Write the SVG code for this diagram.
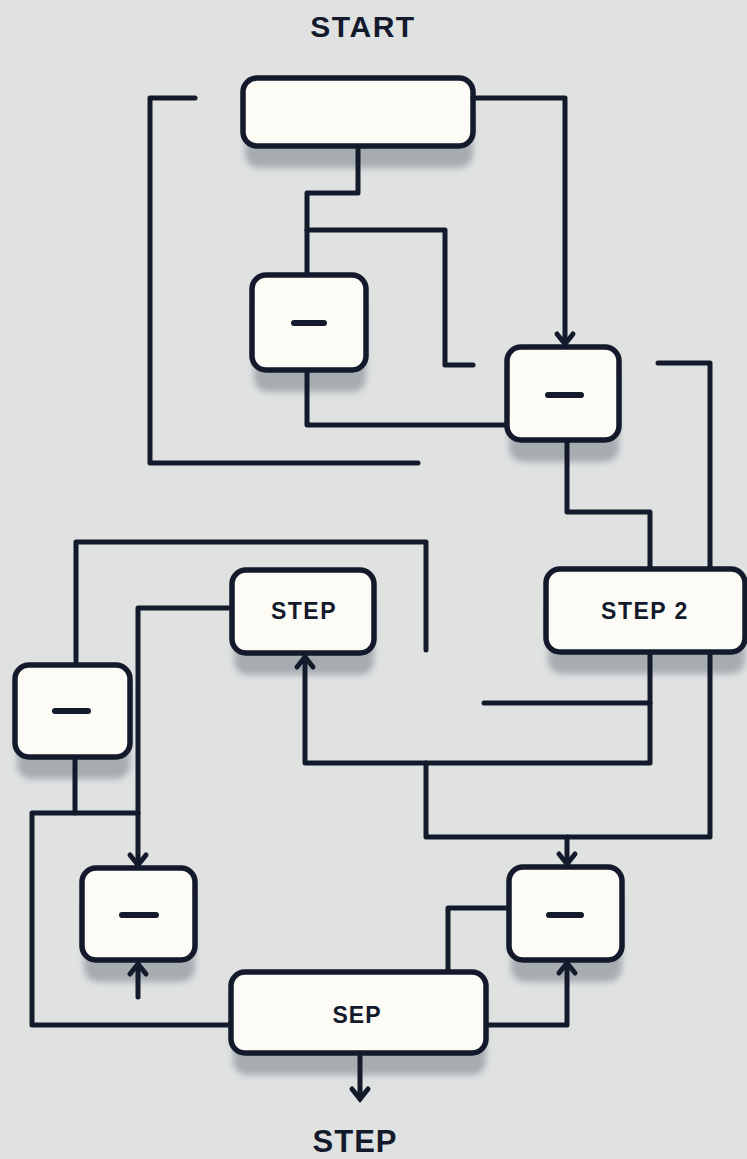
<svg xmlns="http://www.w3.org/2000/svg" width="747" height="1159" viewBox="0 0 747 1159">
<style>
.bg{fill:#dfe2e1}
.box{fill:#fcfbf6;stroke:#121a2b;stroke-width:5.5}
.sh{fill:#959aa2;opacity:0.75;filter:url(#blur)}
.dash{stroke:#121a2b;stroke-width:6;stroke-linecap:round}
.ln{fill:none;stroke:#121a2b;stroke-width:5;stroke-linejoin:round;stroke-linecap:round}
.arr{marker-end:url(#ah)}
.lbl{font-family:"Liberation Sans",Arial,sans-serif;font-weight:bold;fill:#121a2b;text-anchor:middle}
</style>
<defs>
<filter id="blur" x="-20%" y="-40%" width="140%" height="180%"><feGaussianBlur stdDeviation="3"/></filter>
<marker id="ah" markerUnits="userSpaceOnUse" viewBox="-14 -12 18 24" refX="0" refY="0" markerWidth="18" markerHeight="24" orient="auto" overflow="visible">
<path d="M-10,-8 L0,0 L-10,8" fill="none" stroke="#121a2b" stroke-width="5" stroke-linejoin="miter" stroke-linecap="round"/>
</marker>
</defs>
<rect class="bg" x="0" y="0" width="747" height="1159"/>
<text class="lbl" x="363" y="37" font-size="30" letter-spacing="1.5">START</text>
<text class="lbl" x="355" y="1152" font-size="31" letter-spacing="1">STEP</text>

<g id="n-top"><rect class="sh" x="245" y="100" width="228" height="68" rx="14"/><rect class="box" x="243" y="78" width="230" height="68" rx="14"/></g>
<g id="n-box1"><rect class="sh" x="254" y="297" width="112" height="95" rx="14"/><rect class="box" x="252" y="275" width="114" height="95" rx="14"/><line class="dash" x1="294" y1="323" x2="324" y2="323"/></g>
<g id="n-box2"><rect class="sh" x="509" y="369" width="110" height="93" rx="14"/><rect class="box" x="507" y="347" width="112" height="93" rx="14"/><line class="dash" x1="548" y1="395" x2="581" y2="395"/></g>
<g id="n-step2"><rect class="sh" x="548" y="591" width="197" height="83" rx="14"/><rect class="box" x="546" y="569" width="199" height="83" rx="14"/><text class="lbl" x="645" y="619" font-size="23" letter-spacing="1.5">STEP 2</text></g>
<g id="n-step"><rect class="sh" x="234" y="592" width="140" height="83" rx="14"/><rect class="box" x="232" y="570" width="142" height="83" rx="14"/><text class="lbl" x="304" y="619" font-size="23" letter-spacing="1.5">STEP</text></g>
<g id="n-left"><rect class="sh" x="17" y="687" width="113" height="92" rx="14"/><rect class="box" x="15" y="665" width="115" height="92" rx="14"/><line class="dash" x1="55" y1="711" x2="88" y2="711"/></g>
<g id="n-small2"><rect class="sh" x="84" y="890" width="111" height="92" rx="14"/><rect class="box" x="82" y="868" width="113" height="92" rx="14"/><line class="dash" x1="122" y1="915" x2="156" y2="915"/></g>
<g id="n-right"><rect class="sh" x="511" y="889" width="111" height="93" rx="14"/><rect class="box" x="509" y="867" width="113" height="93" rx="14"/><line class="dash" x1="549" y1="915" x2="581" y2="915"/></g>
<g id="n-sep"><rect class="sh" x="233" y="994" width="253" height="81" rx="14"/><rect class="box" x="231" y="972" width="255" height="81" rx="14"/><text class="lbl" x="357" y="1023" font-size="23" letter-spacing="1">SEP</text></g>

<g id="connectors">
<path class="ln" d="M195,98 H150 V463 H418"/>
<path class="ln arr" d="M473,98 H565 V344"/>
<path class="ln" d="M358,147 V193 H307 V273"/>
<path class="ln" d="M307,230 H445 V365 H473"/>
<path class="ln" d="M307,372 V425 H505"/>
<path class="ln" d="M567,442 V512 H650 V567"/>
<path class="ln" d="M658,363 H710 V567"/>
<path class="ln" d="M710,654 V837 H426 V763"/>
<path class="ln" d="M426,650 V542 H76 V662"/>
<path class="ln arr" d="M650,654 V763 H305 V657"/>
<path class="ln" d="M484,703 H650"/>
<path class="ln arr" d="M567,837 V864"/>
<path class="ln arr" d="M230,608 H138 V865"/>
<path class="ln" d="M75,759 V813"/>
<path class="ln" d="M138,813 H32 V1025 H229"/>
<path class="ln arr" d="M138,997 V964"/>
<path class="ln" d="M507,908 H448 V970"/>
<path class="ln arr" d="M488,1025 H567 V963"/>
<path class="ln arr" d="M360,1055 V1099"/>
</g>
</svg>
